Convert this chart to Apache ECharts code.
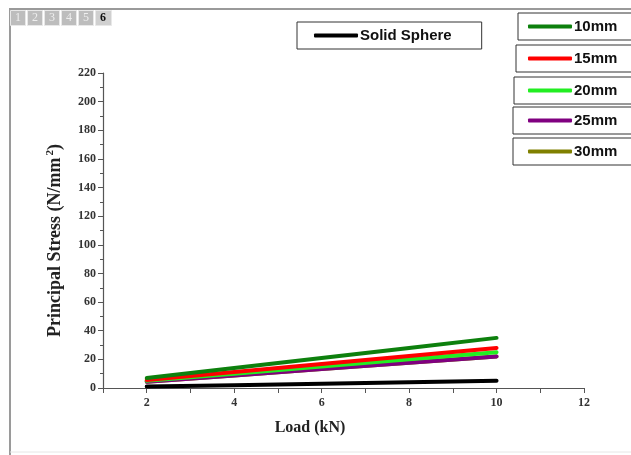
<!DOCTYPE html>
<html><head><meta charset="utf-8">
<script src="https://cdn.jsdelivr.net/npm/echarts@6/dist/echarts.min.js"></script>
<style>html,body{margin:0;padding:0;background:#fff}#c{width:631px;height:455px}</style>
</head><body><div id="c"></div>
<script>
const loads = [2, 4, 6, 8, 10];
const s10mm = [7, 14, 21, 28, 35];
const s15mm = [5.6, 11.2, 16.8, 22.4, 28];
const s20mm = [5, 10, 15, 20, 25];
const s25mm = [4.4, 8.8, 13.2, 17.6, 22];
const s30mm = [4.4, 8.8, 13.2, 17.6, 22];
const solidSphere = [1, 2, 3, 4, 5];
const seriesNames = ['30mm', '25mm', '20mm', '15mm', '10mm', 'Solid Sphere'];
const seriesColors = ['#808000', '#800080', '#22ee22', '#ff0000', '#0d800d', '#000000'];
const seriesData = [s30mm, s25mm, s20mm, s15mm, s10mm, solidSphere];
const tabLabels = ['1', '2', '3', '4', '5', '6'];

const chart = echarts.init(document.getElementById('c'));
const serif = '"Liberation Serif","Times New Roman",serif';
const sans = '"Liberation Sans",Arial,sans-serif';

function legendBox(name, left, top, padL, padR) {
  return {
    data: [name], left: left, top: top, orient: 'horizontal',
    itemWidth: 44, itemHeight: 4, itemGap: 0,
    icon: 'roundRect',
    padding: [6, padR, 6, padL],
    borderColor: '#333', borderWidth: 1, backgroundColor: '#fff',
    textStyle: { fontFamily: sans, fontWeight: 'bold', fontSize: 15, color: '#111', padding: [0, 0, 0, -3] },
    selectedMode: false
  };
}

const series = seriesNames.map((n, i) => ({
  name: n, type: 'line', xAxisIndex: 0, yAxisIndex: 0,
  data: loads.map((x, j) => [x, seriesData[i][j]]),
  showSymbol: false, symbol: 'none',
  lineStyle: { color: seriesColors[i], width: 4, cap: 'round' },
  itemStyle: { color: seriesColors[i] },
  z: 2 + i, animation: false
}));

const tabGraphics = tabLabels.map((t, i) => ({
  type: 'group', left: 10 + i * 17, top: 10,
  children: [
    { type: 'rect', shape: { x: 0, y: 0, width: i === 5 ? 16 : 15, height: 15 },
      style: { fill: i === 5 ? '#d0d0d0' : '#bdbdbd', stroke: '#e8e8e8', lineWidth: 1 } },
    { type: 'text', style: { x: 7.5, y: 7.5, text: t, align: 'center', verticalAlign: 'middle',
      fill: i === 5 ? '#111' : '#eeeeee', font: (i === 5 ? 'bold ' : '') + '12px ' + serif } }
  ]
}));

chart.setOption({
  animation: false,
  backgroundColor: '#fff',
  grid: { left: 103, top: 73, right: 47, bottom: 67, containLabel: false },
  legend: [
    legendBox('Solid Sphere', 297, 22, 17, 30),
    legendBox('10mm', 518, 13, 10, 20),
    legendBox('15mm', 516, 45, 12, 22),
    legendBox('20mm', 514, 77, 14, 24),
    legendBox('25mm', 513, 107, 15, 25),
    legendBox('30mm', 513, 138, 15, 25)
  ],
  xAxis: [{
    type: 'value', min: 1, max: 12, interval: 1,
    name: 'Load (kN)', nameLocation: 'middle', nameGap: 32,
    nameTextStyle: { fontFamily: serif, fontWeight: 'bold', fontSize: 16, color: '#222', padding: [0, 67, 0, 0] },
    axisLine: { lineStyle: { color: '#555', width: 1.2 } },
    axisTick: { show: true, length: 5, lineStyle: { color: '#555' }, interval: (idx, v) => Number(v) % 2 === 0 },
    axisLabel: { fontFamily: serif, fontWeight: 'bold', fontSize: 12, color: '#333', margin: 9,
      formatter: v => (v % 2 === 0 ? String(v) : '') },
    splitLine: { show: false }
  }, {
    type: 'value', min: 1, max: 12, interval: 1, position: 'bottom',
    axisLine: { show: false },
    axisTick: { show: true, length: 3, lineStyle: { color: '#555' } },
    axisLabel: { show: false }, splitLine: { show: false }
  }],
  yAxis: {
    type: 'value', min: 0, max: 220, interval: 20,
    name: 'Principal Stress (N/mm{sup|2})', nameLocation: 'middle', nameGap: 37, nameRotate: 90,
    nameTextStyle: { fontFamily: serif, fontWeight: 'bold', fontSize: 18, color: '#222', padding: [0, 20, 0, 0],
      rich: { sup: { fontFamily: serif, fontWeight: 'bold', fontSize: 11, color: '#222', verticalAlign: 'top', padding: [0, 0, 10, 2] } } },
    axisLine: { show: true, lineStyle: { color: '#555', width: 1.2 } },
    axisTick: { show: true, length: 5, lineStyle: { color: '#555' } },
    minorTick: { show: true, splitNumber: 2, length: 3, lineStyle: { color: '#555' } },
    axisLabel: { fontFamily: serif, fontWeight: 'bold', fontSize: 12, color: '#333', margin: 7 },
    splitLine: { show: false }
  },
  graphic: [
    { type: 'polyline', shape: { points: [[10, 455], [10, 9], [631, 9]] }, style: { stroke: '#9a9a9a', lineWidth: 2, fill: null }, silent: true },
    { type: 'line', shape: { x1: 10, y1: 452, x2: 631, y2: 452 }, style: { stroke: '#e6e6e6', lineWidth: 1 }, silent: true }
  ].concat(tabGraphics),
  series: series
});
</script></body></html>
